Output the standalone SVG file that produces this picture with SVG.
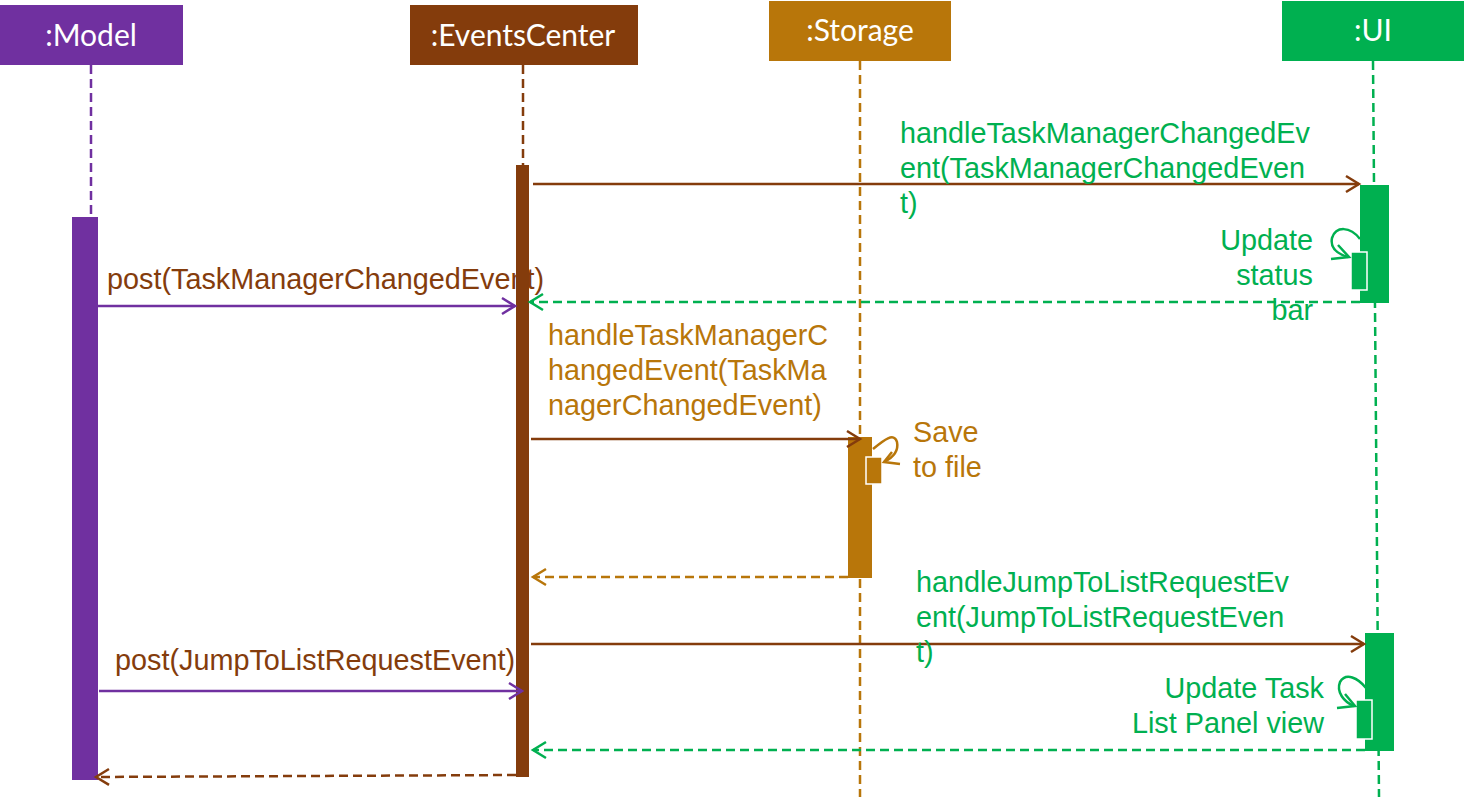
<svg xmlns="http://www.w3.org/2000/svg" width="1464" height="797" viewBox="0 0 1464 797">
<style>
.hd{font-family:Lato,"Open Sans",sans-serif;font-size:30px;fill:#fff;text-anchor:middle}
.lb{font-family:"Liberation Sans",Arial,sans-serif;font-size:28.8px}
.pu{fill:#7030A0}.br{fill:#843C0C}.mu{fill:#B8760A}.gr{fill:#00B050}
.ll{fill:none;stroke-width:2.5;stroke-dasharray:9 5}
.msg{fill:none;stroke-width:2.5}
.ret{fill:none;stroke-width:2.5;stroke-dasharray:9 5}
.self{fill:none;stroke-width:2.5}
</style>
<defs>
<marker id="aPu" markerWidth="20" markerHeight="20" refX="16" refY="10" orient="auto" markerUnits="userSpaceOnUse"><path d="M3,2 L16,10 L3,18" fill="none" stroke="#7030A0" stroke-width="2.5"/></marker>
<marker id="aBr" markerWidth="20" markerHeight="20" refX="16" refY="10" orient="auto" markerUnits="userSpaceOnUse"><path d="M3,2 L16,10 L3,18" fill="none" stroke="#843C0C" stroke-width="2.5"/></marker>
<marker id="aMu" markerWidth="20" markerHeight="20" refX="16" refY="10" orient="auto" markerUnits="userSpaceOnUse"><path d="M3,2 L16,10 L3,18" fill="none" stroke="#B8760A" stroke-width="2.5"/></marker>
<marker id="aGr" markerWidth="20" markerHeight="20" refX="16" refY="10" orient="auto" markerUnits="userSpaceOnUse"><path d="M3,2 L16,10 L3,18" fill="none" stroke="#00B050" stroke-width="2.5"/></marker>
</defs>
<rect width="1464" height="797" fill="#fff"/>

<g id="model">
<rect x="0" y="5" width="183" height="60" fill="#7030A0"/>
<text class="hd" x="91" y="46">:Model</text>
<line class="ll" x1="91" y1="65" x2="91" y2="217" stroke="#7030A0"/>
<rect x="72" y="217" width="26" height="563" fill="#7030A0"/>
</g>

<g id="eventscenter">
<rect x="410" y="5" width="228" height="60" fill="#843C0C"/>
<text class="hd" x="523" y="46">:EventsCenter</text>
<line class="ll" x1="523" y1="65" x2="523" y2="165" stroke="#843C0C"/>
<rect x="516" y="165" width="13" height="612" fill="#843C0C"/>
</g>

<g id="storage">
<rect x="769" y="1" width="182" height="60" fill="#B8760A"/>
<text class="hd" x="860" y="41">:Storage</text>
<line class="ll" x1="860" y1="61" x2="860" y2="797" stroke="#B8760A"/>
<rect x="848" y="437" width="24" height="141" fill="#B8760A"/>
<rect x="866" y="457" width="16" height="27" fill="#B8760A" stroke="#fff" stroke-width="1.5"/>
</g>

<g id="ui">
<rect x="1282" y="1" width="182" height="60" fill="#00B050"/>
<text class="hd" x="1373" y="41">:UI</text>
<line class="ll" x1="1373" y1="61" x2="1379" y2="797" stroke="#00B050"/>
<rect x="1360" y="185" width="29" height="118" fill="#00B050"/>
<rect x="1351" y="252" width="16" height="38" fill="#00B050" stroke="#fff" stroke-width="1.5"/>
<rect x="1365" y="633" width="29" height="118" fill="#00B050"/>
<rect x="1356" y="700" width="16" height="39" fill="#00B050" stroke="#fff" stroke-width="1.5"/>
</g>

<g id="connectors">
<line class="msg" x1="533" y1="184" x2="1359" y2="184" stroke="#843C0C" marker-end="url(#aBr)"/>
<path class="self" d="M1360,239 C1350,226 1336,226 1332,238 C1330,248 1338,254 1348,257" stroke="#00B050"/>
<path d="M1331,259 L1349,257 L1338,245" fill="none" stroke="#00B050" stroke-width="2.5"/>
<line class="ret" x1="1360" y1="302" x2="530" y2="302" stroke="#00B050" marker-end="url(#aGr)"/>
<line class="msg" x1="98" y1="306" x2="515" y2="306" stroke="#7030A0" marker-end="url(#aPu)"/>
<line class="msg" x1="531" y1="439" x2="860" y2="439" stroke="#843C0C" marker-end="url(#aBr)"/>
<path class="self" d="M873,449 C884,440 894,432 897,442 C899,452 892,458 884,462" stroke="#B8760A"/>
<path d="M900,464 L884,462 L892,452" fill="none" stroke="#B8760A" stroke-width="2.5"/>
<line class="ret" x1="848" y1="577" x2="533" y2="577" stroke="#B8760A" marker-end="url(#aMu)"/>
<line class="msg" x1="531" y1="644" x2="1364" y2="644" stroke="#843C0C" marker-end="url(#aBr)"/>
<path class="self" d="M1366,688 C1358,678 1346,672 1340,682 C1336,692 1344,702 1354,706" stroke="#00B050"/>
<path d="M1337,708 L1355,706 L1345,694" fill="none" stroke="#00B050" stroke-width="2.5"/>
<line class="msg" x1="99" y1="691" x2="522" y2="691" stroke="#7030A0" marker-end="url(#aPu)"/>
<line class="ret" x1="1365" y1="750" x2="533" y2="750" stroke="#00B050" marker-end="url(#aGr)"/>
<line class="ret" x1="516" y1="775" x2="96" y2="777" stroke="#843C0C" marker-end="url(#aBr)"/>
</g>

<g id="labels">
<text class="lb gr" x="900" y="143">handleTaskManagerChangedEv</text>
<text class="lb gr" x="900" y="178">ent(TaskManagerChangedEven</text>
<text class="lb gr" x="900" y="213">t)</text>
<text class="lb gr" x="1313" y="250" text-anchor="end">Update</text>
<text class="lb gr" x="1313" y="285" text-anchor="end">status</text>
<text class="lb gr" x="1313" y="320" text-anchor="end">bar</text>
<text class="lb br" x="107" y="289">post(TaskManagerChangedEvent)</text>
<text class="lb mu" x="548" y="345">handleTaskManagerC</text>
<text class="lb mu" x="548" y="380">hangedEvent(TaskMa</text>
<text class="lb mu" x="548" y="415">nagerChangedEvent)</text>
<text class="lb mu" x="913" y="442">Save</text>
<text class="lb mu" x="913" y="477">to file</text>
<text class="lb gr" x="916" y="592">handleJumpToListRequestEv</text>
<text class="lb gr" x="916" y="627">ent(JumpToListRequestEven</text>
<text class="lb gr" x="916" y="662">t)</text>
<text class="lb gr" x="1324" y="698" text-anchor="end">Update Task</text>
<text class="lb gr" x="1324" y="733" text-anchor="end">List Panel view</text>
<text class="lb br" x="115" y="670">post(JumpToListRequestEvent)</text>
</g>
</svg>
